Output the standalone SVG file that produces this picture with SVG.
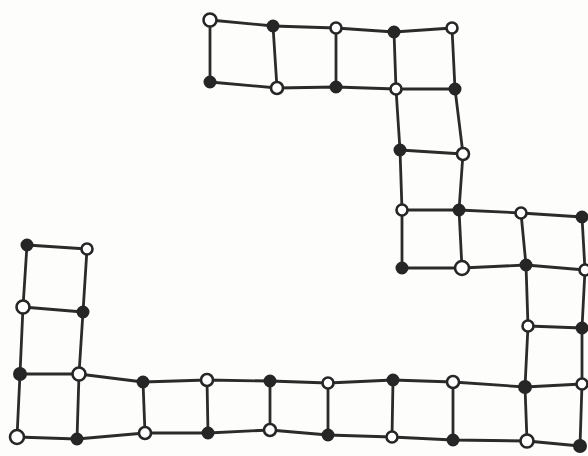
<svg xmlns="http://www.w3.org/2000/svg" width="588" height="456" viewBox="0 0 588 456">
<style>
.e{fill:none;stroke:#2b2b2b;stroke-width:2.8;stroke-linecap:round;stroke-linejoin:round}
.b{fill:#262626;stroke:#262626;stroke-width:2}
.w{fill:#ffffff;stroke:#262626;stroke-width:2.6}
</style>
<rect width="588" height="456" fill="#fdfdfb"/>
<g id="connectors" class="e">
<polyline points="210,20 273,26 336,28 394,32 452,28"/>
<polyline points="210,82 277,88 336,87 396,89 455,89"/>
<line x1="210" y1="20" x2="210" y2="82"/>
<line x1="273" y1="26" x2="277" y2="88"/>
<line x1="336" y1="28" x2="336" y2="87"/>
<line x1="394" y1="32" x2="396" y2="89"/>
<line x1="452" y1="28" x2="455" y2="89"/>
<polyline points="396,89 400,150 402,210 402,268"/>
<polyline points="455,89 463,154 459,210 462,268"/>
<line x1="400" y1="150" x2="463" y2="154"/>
<line x1="402" y1="210" x2="459" y2="210"/>
<line x1="402" y1="268" x2="462" y2="268"/>
<polyline points="459,210 521,213 582,217"/>
<polyline points="462,268 526,265 585,270"/>
<line x1="521" y1="213" x2="526" y2="265"/>
<line x1="582" y1="217" x2="585" y2="270"/>
<polyline points="526,265 528,326 525,387 527,441"/>
<polyline points="585,270 582,328 582,384 580,446"/>
<line x1="528" y1="326" x2="582" y2="328"/>
<line x1="525" y1="387" x2="582" y2="384"/>
<line x1="527" y1="441" x2="580" y2="446"/>
<polyline points="20,374 79,374 143,382 207,380 270,381 328,383 393,380 453,382 525,387"/>
<polyline points="17,437 77,439 145,433 208,433 270,430 328,435 392,437 453,440 527,441"/>
<line x1="20" y1="374" x2="17" y2="437"/>
<line x1="79" y1="374" x2="77" y2="439"/>
<line x1="143" y1="382" x2="145" y2="433"/>
<line x1="207" y1="380" x2="208" y2="433"/>
<line x1="270" y1="381" x2="270" y2="430"/>
<line x1="328" y1="383" x2="328" y2="435"/>
<line x1="393" y1="380" x2="392" y2="437"/>
<line x1="453" y1="382" x2="453" y2="440"/>
<polyline points="27,245 23,307 20,374"/>
<polyline points="87,249 83,312 79,374"/>
<line x1="27" y1="245" x2="87" y2="249"/>
<line x1="23" y1="307" x2="83" y2="312"/>
</g>
<g id="n1"><circle class="w" cx="210" cy="20" r="6.5"/></g>
<g id="n2"><circle class="b" cx="273" cy="26" r="5.5"/></g>
<g id="n3"><circle class="w" cx="336" cy="28" r="5.5"/></g>
<g id="n4"><circle class="b" cx="394" cy="32" r="5.5"/></g>
<g id="n5"><circle class="w" cx="452" cy="28" r="5.5"/></g>
<g id="n6"><circle class="b" cx="210" cy="82" r="5.5"/></g>
<g id="n7"><circle class="w" cx="277" cy="88" r="6"/></g>
<g id="n8"><circle class="b" cx="336" cy="87" r="5.5"/></g>
<g id="n9"><circle class="w" cx="396" cy="89" r="5.5"/></g>
<g id="n10"><circle class="b" cx="455" cy="89" r="5.5"/></g>
<g id="n11"><circle class="b" cx="400" cy="150" r="5.5"/></g>
<g id="n12"><circle class="w" cx="463" cy="154" r="6"/></g>
<g id="n13"><circle class="w" cx="402" cy="210" r="5.5"/></g>
<g id="n14"><circle class="b" cx="459" cy="210" r="5.5"/></g>
<g id="n15"><circle class="w" cx="521" cy="213" r="5.5"/></g>
<g id="n16"><circle class="b" cx="582" cy="217" r="5.5"/></g>
<g id="n17"><circle class="b" cx="402" cy="268" r="5.5"/></g>
<g id="n18"><circle class="w" cx="462" cy="268" r="7"/></g>
<g id="n19"><circle class="b" cx="526" cy="265" r="5.5"/></g>
<g id="n20"><circle class="w" cx="585" cy="270" r="5.5"/></g>
<g id="n21"><circle class="w" cx="528" cy="326" r="5.5"/></g>
<g id="n22"><circle class="b" cx="582" cy="328" r="5.5"/></g>
<g id="n23"><circle class="b" cx="525" cy="387" r="6"/></g>
<g id="n24"><circle class="w" cx="582" cy="384" r="5.5"/></g>
<g id="n25"><circle class="w" cx="527" cy="441" r="6.5"/></g>
<g id="n26"><circle class="b" cx="580" cy="446" r="6"/></g>
<g id="n27"><circle class="b" cx="27" cy="245" r="5.5"/></g>
<g id="n28"><circle class="w" cx="87" cy="249" r="5.5"/></g>
<g id="n29"><circle class="w" cx="23" cy="307" r="6.5"/></g>
<g id="n30"><circle class="b" cx="83" cy="312" r="5.5"/></g>
<g id="n31"><circle class="b" cx="20" cy="374" r="6"/></g>
<g id="n32"><circle class="w" cx="79" cy="374" r="6.5"/></g>
<g id="n33"><circle class="b" cx="143" cy="382" r="5.5"/></g>
<g id="n34"><circle class="w" cx="207" cy="380" r="6"/></g>
<g id="n35"><circle class="b" cx="270" cy="381" r="5.5"/></g>
<g id="n36"><circle class="w" cx="328" cy="383" r="5.5"/></g>
<g id="n37"><circle class="b" cx="393" cy="380" r="5.5"/></g>
<g id="n38"><circle class="w" cx="453" cy="382" r="6"/></g>
<g id="n39"><circle class="w" cx="17" cy="437" r="7"/></g>
<g id="n40"><circle class="b" cx="77" cy="439" r="5.5"/></g>
<g id="n41"><circle class="w" cx="145" cy="433" r="6"/></g>
<g id="n42"><circle class="b" cx="208" cy="433" r="5.5"/></g>
<g id="n43"><circle class="w" cx="270" cy="430" r="6"/></g>
<g id="n44"><circle class="b" cx="328" cy="435" r="5.5"/></g>
<g id="n45"><circle class="w" cx="392" cy="437" r="5.5"/></g>
<g id="n46"><circle class="b" cx="453" cy="440" r="5.5"/></g>
</svg>
